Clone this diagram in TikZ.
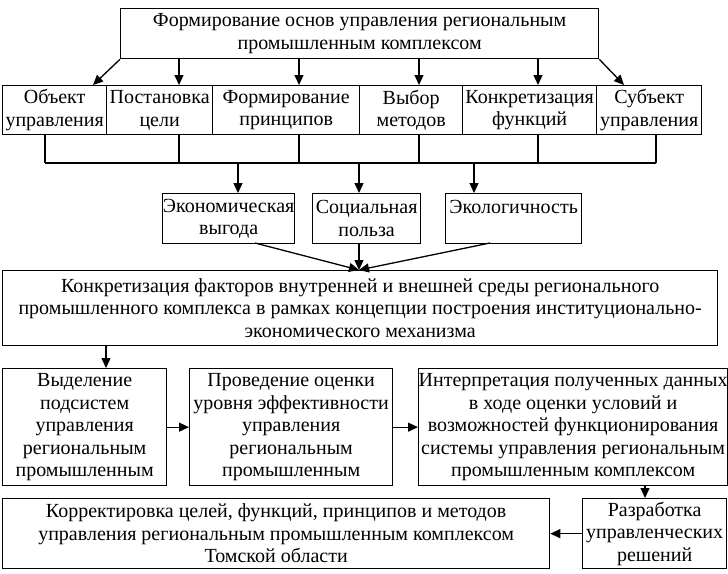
\documentclass[tikz,border=0pt]{standalone}
\usepackage{fontspec}
\setmainfont{Liberation Serif}
\usetikzlibrary{arrows.meta}
\begin{document}
\begin{tikzpicture}[x=1pt,y=-1pt,
  box/.style={draw,line width=1.3pt,anchor=north west,inner sep=0pt,align=center,
    font=\fontsize{20}{22.5}\selectfont},
  arr/.style={line width=1.3pt,-{Triangle[length=10pt,width=9pt]}},
  ln/.style={line width=1.3pt}]
\useasboundingbox (0,0) rectangle (728,573);
\node[box,minimum width=478pt,minimum height=50pt] (top) at (120,8) {Формирование основ управления региональным\\промышленным комплексом};
\node[box,minimum width=104pt,minimum height=49pt] (o1) at (2,85) {Объект\\управления};
\node[box,minimum width=106pt,minimum height=49pt] (o2) at (106,85) {Постановка\\цели};
\node[box,minimum width=147pt,minimum height=49pt] (o3) at (212,85) {Формирование\\принципов};
\node[box,minimum width=103pt,minimum height=49pt] (o4) at (359,85) {Выбор\\методов};
\node[box,minimum width=134pt,minimum height=49pt] (o5) at (462,85) {Конкретизация\\функций};
\node[box,minimum width=105pt,minimum height=49pt] (o6) at (596,85) {Субъект\\управления};
\node[box,minimum width=132pt,minimum height=50pt] (m1) at (162,193) {Экономическая\\выгода};
\node[box,minimum width=108pt,minimum height=50pt] (m2) at (312,193) {Социальная\\польза};
\node[box,minimum width=136pt,minimum height=50pt] (m3) at (445,193) {Экологичность\\\phantom{Э}};
\node[box,minimum width=715pt,minimum height=75pt] (big) at (2,270) {Конкретизация факторов внутренней и внешней среды регионального\\промышленного комплекса в рамках концепции построения институционально-\\экономического механизма};
\node[box,minimum width=164pt,minimum height=117pt] (r1) at (2,368) {Выделение\\подсистем\\управления\\региональным\\промышленным};
\node[box,minimum width=203pt,minimum height=117pt] (r2) at (189,368) {Проведение оценки\\уровня эффективности\\управления\\региональным\\промышленным};
\node[box,minimum width=308pt,minimum height=117pt] (r3) at (418,368) {Интерпретация полученных данных\\в ходе оценки условий и\\возможностей функционирования\\системы управления региональным\\промышленным комплексом};
\node[box,minimum width=547pt,minimum height=70pt] (b1) at (2,498) {Корректировка целей, функций, принципов и методов\\управления региональным промышленным комплексом\\Томской области};
\node[box,minimum width=144pt,minimum height=70pt] (b2) at (582,498) {Разработка\\управленческих\\решений};
% x positions
\foreach \n/\x in {a2/179,a3/299,a4/419,a5/538,l1/93,l6/624,s1/45,s2/179,s3/299,s4/419,s5/538,s6/656,d1/238,d2/359,d3/474,k/106,p/645}
  \coordinate (\n) at (\x,0);
\coordinate (bus) at (0,163);
% top -> row
\draw[arr] (top.south west) -- (o1.north -| l1);
\draw[arr] (top.south east) -- (o6.north -| l6);
\foreach \i/\c in {2/a2,3/a3,4/a4,5/a5}
  \draw[arr] (top.south -| \c) -- (o\i.north -| \c);
% bus
\foreach \i in {1,...,6}
  \draw[ln] (o\i.south -| s\i) -- (bus -| s\i);
\draw[ln] (bus -| s1) -- (bus -| s6);
\draw[arr] (bus -| d1) -- (m1.north -| d1);
\draw[arr] (bus -| d2) -- (m2.north -| d2);
\draw[arr] (bus -| d3) -- (m3.north -| d3);
% converge
\coordinate (cv) at (big.north -| d2);
\coordinate (m1b) at (255,243);
\coordinate (m3b) at (490,243);
\draw[arr] (m1b) -- (cv);
\draw[arr] (m2.south -| d2) -- (cv);
\draw[arr] (m3b) -- (cv);
% big -> r1
\draw[arr] (big.south -| k) -- (r1.north -| k);
\draw[arr] (r1.east) -- (r2.west);
\draw[arr] (r2.east) -- (r3.west);
\draw[arr] (r3.south -| p) -- (b2.north -| p);
\draw[arr] (b2.west) -- (b1.east);
\end{tikzpicture}
\end{document}
